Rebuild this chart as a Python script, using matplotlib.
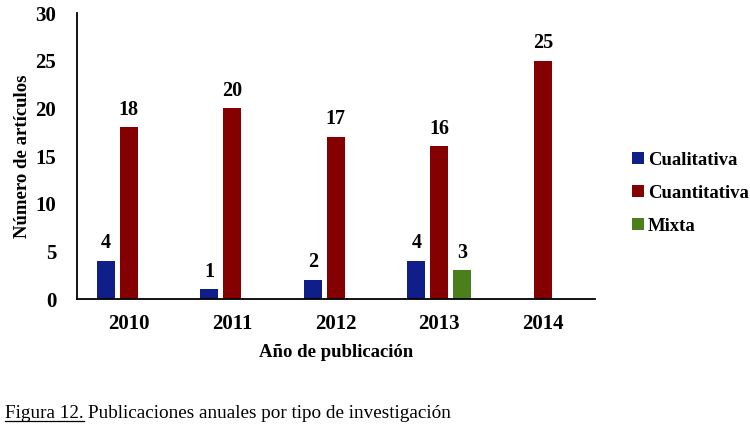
import matplotlib
matplotlib.use("Agg")
import matplotlib.pyplot as plt
import numpy as np

plt.rcParams['font.family'] = ['Liberation Serif', 'DejaVu Serif']

# Data
years = ['2010', '2011', '2012', '2013', '2014']
cualitativa = [4, 1, 2, 4, 0]
cuantitativa = [18, 20, 17, 16, 25]
mixta = [0, 0, 0, 3, 0]

series = [('Cualitativa', cualitativa, '#101e8a'),
          ('Cuantitativa', cuantitativa, '#850000'),
          ('Mixta', mixta, '#4b7f1c')]

fig = plt.figure(figsize=(7.5, 4.28), dpi=100)
ax = fig.add_axes([0.1027, 0.3014, 0.69, 0.6682])

x = np.arange(len(years))
width = 0.175
step = 0.222

for i, (name, vals, col) in enumerate(series):
    offs = x + (i - 1) * step
    bars = ax.bar(offs, vals, width, color=col, label=name, zorder=2)
    for b, v in zip(bars, vals):
        if v > 0:
            ax.text(b.get_x() + b.get_width() / 2, v + 0.8, str(v),
                    ha='center', va='bottom', fontsize=14.5, fontweight='bold')

ax.set_xlim(-0.5, len(years) - 0.5)
ax.set_ylim(0, 30)
ax.set_yticks(range(0, 31, 5))
ax.set_xticks(x)
ax.set_xticklabels(years)
ax.tick_params(axis='both', length=0, labelsize=15)
ax.tick_params(axis='x', pad=11)
ax.tick_params(axis='y', pad=15)
for lab in ax.get_xticklabels() + ax.get_yticklabels():
    lab.set_fontweight('bold')
for s in ['top', 'right']:
    ax.spines[s].set_visible(False)
for s in ['left', 'bottom']:
    ax.spines[s].set_linewidth(1.3)

ax.set_xlabel('Año de publicación', fontsize=13.5, fontweight='bold', labelpad=7)
ax.set_ylabel('Número de artículos', fontsize=13.5, fontweight='bold', labelpad=3)

leg = ax.legend(loc='center left', bbox_to_anchor=(1.054, 0.37), frameon=False,
                borderpad=0, fontsize=13.5, handlelength=0.65, handleheight=0.65,
                handletextpad=0.2, labelspacing=0.85)
for t in leg.get_texts():
    t.set_fontweight('bold')

# caption with underlined "Figura 12."
cap_y = 0.024
cap1 = fig.text(0.007, cap_y, 'Figura 12.', fontsize=13.75, ha='left', va='baseline')
fig.canvas.draw()
r = fig.canvas.get_renderer()
bb = cap1.get_window_extent(r).transformed(fig.transFigure.inverted())
fig.text(bb.x1 + 0.006, cap_y, 'Publicaciones anuales por tipo de investigación',
         fontsize=13.75, ha='left', va='baseline')
fig.add_artist(plt.Line2D([bb.x0, bb.x1], [cap_y - 0.008, cap_y - 0.008],
                          color='black', lw=0.9, transform=fig.transFigure))

fig.savefig('out.png', dpi=100)
